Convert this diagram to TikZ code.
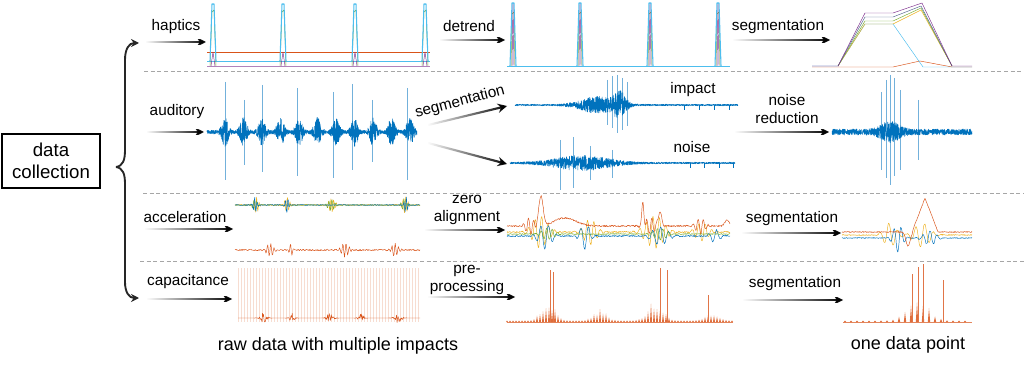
\documentclass[tikz,border=0pt]{standalone}
\usepackage{fontspec}
\setmainfont{Liberation Sans}
\usetikzlibrary{arrows.meta,positioning,fadings}
\definecolor{mblue}{RGB}{0,114,189}
\definecolor{morange}{RGB}{217,83,25}
\definecolor{myellow}{RGB}{237,177,32}
\definecolor{mpurple}{RGB}{126,47,142}
\definecolor{mgreen}{RGB}{119,172,48}
\definecolor{mcyan}{RGB}{77,190,238}
\definecolor{mslate}{RGB}{80,100,140}
\tikzset{
    pil/.style={
           -{Stealth[length=7pt,width=7pt]},
           line width=1.6pt,
           path fading=west},
    brc/.style={
           -{Stealth[length=6pt,width=6pt]},
           line width=1.4pt,
           black!85},
    lab/.style={
           font=\fontsize{11.5}{13}\selectfont,
           align=center,
           inner sep=1pt},
    boks/.style={
           draw=black, line width=1.5pt,
           minimum width=73pt,
           minimum height=40pt,
           align=center,
           font=\fontsize{14}{16.5}\selectfont},
    sep/.style={
           gray!70, densely dashed, line width=0.5pt},
    sig/.style={
           line width=0.35pt, line join=round},
    aud/.style={
           mblue, line width=0.4pt, line join=round},
    tall/.style={
           mblue!55, line width=0.4pt},
    spk/.style={
           morange!80, line width=0.4pt},
    declare function={bl(\xa,\xb,\xc)=exp(-(min(abs((\xa-\xb)/\xc),8))^2);
                      wv(\xa,\xb,\xc)=sin(\xb*mod(\xa,72)+\xc);}
}

\begin{document}
\begin{tikzpicture}[x=0.75pt, y=-0.75pt]
        \useasboundingbox (0,0) rectangle (1024,367);
        \pgfmathsetseed{5}

        \node[boks] (dc) at (51,161) {data\\collection};
        \coordinate (bt) at (116,167);
        \coordinate (btop) at (139,43);
        \coordinate (bbot) at (139,298);
        \draw[brc] (bt) .. controls (123,166) and (125,160) .. (125,150) -- (125,60) .. controls (125,49) and (129,43) .. (btop);
        \draw[brc] (bt) .. controls (123,168) and (125,174) .. (125,184) -- (125,282) .. controls (125,292) and (129,298) .. (bbot);

        \draw[sep] (144,71) -- (1024,71);
        \draw[sep] (143,193) -- (1024,193);
        \draw[sep] (140,261) -- (1024,261);

        % haptics
        \node[lab] (hap) at (176,27) {haptics};
        \coordinate (h0) at (146,42);
        \coordinate (h1) at (206,42);
        \draw[pil] (h0) -- (h1);
        \draw[sig, morange] (207,52) -- (430,52);
        \draw[sig, mcyan] (207,61) -- (430,61);
        \draw[sig, mpurple!60] (207,66) -- (430,66);
        \foreach \s in {213,283,355,425}{
            \draw[sig, mgreen] (\s-3,66) -- (\s-1,12) -- (\s+1,10) -- (\s+3,66);
            \draw[sig, mcyan, line width=0.8pt] (\s-3,61) -- (\s-1,4) -- (\s+1,4) -- (\s+3,61);
            \draw[sig, mpurple] (\s-2,66) -- (\s,52) -- (\s+2,66);
        }
        \node[lab] (det) at (469,26) {detrend};
        \coordinate (d0) at (440,40);
        \coordinate (d1) at (505,40);
        \draw[pil] (d0) -- (d1);
        \draw[sig, mcyan] (507,66) -- (730,66);
        \foreach \s in {513,580,650,718}{
            \draw[sig, mgreen] (\s-2,66) -- (\s-1,14) -- (\s+1,12) -- (\s+2,66);
            \draw[sig, mpurple] (\s-1,66) -- (\s,3) -- (\s+1,66);
            \draw[sig, mcyan, line width=0.8pt] (\s-3,66) -- (\s-1,3) -- (\s+1,3) -- (\s+3,66);
        }
        \node[lab] (seg1) at (778,27) {segmentation};
        \coordinate (s0) at (733,40);
        \coordinate (s1) at (830,40);
        \draw[pil] (s0) -- (s1);
        \draw[sig, morange] (812,67) -- (893,67) -- (920,61) -- (952,67) -- (972,67);
        \draw[sig, mcyan] (812,66) -- (838,66) -- (865,24) -- (893,24) -- (923,67) -- (972,67);
        \draw[sig, myellow] (838,66) -- (865,24) -- (893,24) -- (921,10) -- (952,66);
        \draw[sig, mgreen] (838,66) -- (865,21) -- (893,21) -- (921,8) -- (952,66);
        \draw[sig, mslate] (838,66) -- (865,17) -- (893,17) -- (921,6) -- (952,66);
        \draw[sig, mpurple] (812,66) -- (838,66) -- (865,13) -- (893,13) -- (922,3) -- (952,66) -- (972,66);

        % auditory
        \node[lab] (aud) at (177,112) {auditory};
        \coordinate (a0) at (147,132);
        \coordinate (a1) at (204,132);
        \draw[pil] (a0) -- (a1);
        \foreach \s/\t/\b in {225/82/180, 244/100/165, 262/85/172, 297/88/176, 333/92/178, 352/84/170, 372/100/162, 407/88/180}
            \draw[tall] (\s,\t) -- (\s,\b);
        \draw[aud] plot[domain=207:417, samples=1500] (\x, {132 + (1.8 + 13*bl(mod(\x-197.5,18.5),9,4)*(\x>214))*rand});
        \node[lab, rotate=15] (seg2) at (460,102) {segmentation};
        \coordinate (g0) at (428,125);
        \coordinate (g1) at (507,106);
        \coordinate (g2) at (428,143);
        \coordinate (g3) at (507,164);
        \draw[pil] (g0) -- (g1);
        \draw[pil] (g2) -- (g3);
        \foreach \s/\t/\b in {607/80/125, 612/76/128, 617/75/133, 622/78/130, 627/82/126}
            \draw[tall] (\s,\t) -- (\s,\b);
        \draw[aud] plot[domain=515:738, samples=1400] (\x, {105 + (0.8 + 8*bl(\x,598,22) + 11*bl(\x,620,7))*rand});
        \foreach \s in {684,699,714,729}
            \draw[sig, mblue] (\s,105) -- (\s,110);
        \node[lab] (imp) at (693,90) {impact};
        \foreach \s/\t/\b in {560/140/190, 573/137/188, 590/146/180, 612/150/178}
            \draw[tall] (\s,\t) -- (\s,\b);
        \draw[aud] plot[domain=510:735, samples=1400] (\x, {163 + (0.8 + 7*bl(\x,582,35))*rand});
        \foreach \s in {690,704,719,733}
            \draw[sig, mblue] (\s,163) -- (\s,168);
        \node[lab] (noi) at (692,147) {noise};
        \node[lab] (nr) at (787,109) {noise\\reduction};
        \coordinate (n0) at (735,132);
        \coordinate (n1) at (829,132);
        \draw[pil] (n0) -- (n1);
        \foreach \s/\t/\b in {881/92/170, 886/80/178, 890/75/185, 894/78/176, 900/90/170, 918/100/160}
            \draw[tall] (\s,\t) -- (\s,\b);
        \draw[aud] plot[domain=832:972, samples=1000] (\x, {132 + (3 + 8*bl(\x,890,12))*rand});

        % acceleration
        \node[lab] (acc) at (185,217) {acceleration};
        \coordinate (c0) at (145,229);
        \coordinate (c1) at (233,229);
        \draw[pil] (c0) -- (c1);
        \draw[sig, myellow] plot[domain=235:420, samples=300] (\x, {205 + 0.6*rand + 9*(bl(\x,256,3)+bl(\x,287,3)+0.8*bl(\x,332,4)+bl(\x,405,3))*wv(\x,140,0)});
        \draw[sig, mgreen] plot[domain=235:420, samples=300] (\x, {205 + 0.5*rand + 6*(bl(\x,255,3)+bl(\x,331,4)+bl(\x,404,3))*wv(\x,120,40)});
        \draw[sig, mblue] plot[domain=235:420, samples=300] (\x, {205 + 0.5*rand - 9*(bl(\x,255,2)+bl(\x,287,2)+bl(\x,406,2))*wv(\x,140,90)});
        \draw[sig, morange] plot[domain=235:420, samples=300] (\x, {250 + 0.8*rand + 7*(bl(\x,270,4)+bl(\x,291,2)+bl(\x,345,5)+bl(\x,395,4))*wv(\x,110,0)});
        \node[lab] (zero) at (467,210) {zero\\alignment};
        \coordinate (z0) at (425,230);
        \coordinate (z1) at (505,230);
        \draw[pil] (z0) -- (z1);
        \draw[sig, myellow] plot[domain=507:730, samples=450] (\x, {232 + 0.7*rand + 16*(bl(\x,540,10)+0.8*bl(\x,590,8)+bl(\x,655,12)+0.6*bl(\x,702,8))*wv(\x,55,0)});
        \draw[sig, mblue] plot[domain=507:730, samples=450] (\x, {236 + 0.7*rand + 13*(bl(\x,545,8)+bl(\x,585,6)+0.7*bl(\x,660,10)+0.5*bl(\x,715,6))*wv(\x,45,60)});
        \draw[sig, mgreen] plot[domain=507:730, samples=450] (\x, {234 + 0.5*rand + 6*(bl(\x,548,8)+bl(\x,660,8))*wv(\x,65,20)});
        \draw[sig, morange] plot[domain=507:730, samples=450] (\x, {226 + 0.8*rand - 30*bl(\x,541,3) - 24*bl(\x,643,1.5) - 16*bl(\x,660,2) - 8*bl(\x,565,15) + 8*(bl(\x,530,6)+bl(\x,650,8)+bl(\x,700,6))*wv(\x,70,0) - 6*bl(\x,727,3)});
        \node[lab] (seg3) at (792,219) {segmentation};
        \coordinate (t0) at (742,233);
        \coordinate (t1) at (841,233);
        \draw[pil] (t0) -- (t1);
        \draw[sig, myellow] plot[domain=842:972, samples=300] (\x, {235 + 0.5*rand + 12*(bl(\x,890,8)+bl(\x,922,10))*wv(\x,40,0)});
        \draw[sig, mblue] plot[domain=842:972, samples=300] (\x, {238 + 0.5*rand - 14*(bl(\x,898,6)+0.5*bl(\x,930,8))*wv(\x,50,30)});
        \draw[sig, morange] plot[domain=842:972, samples=300] (\x, {232 + 0.5*rand + 14*bl(\x,908,3) - 34*max(0,1-abs(\x-925)/13)});

        % capacitance
        \node[lab] (cap) at (188,282) {capacitance};
        \coordinate (p0) at (147,299);
        \coordinate (p1) at (232,299);
        \draw[pil] (p0) -- (p1);
        \foreach \s in {238,241,...,420}
            \draw[morange!20, line width=0.25pt] (\s,268) -- (\s,322);
        \draw[sig, morange] plot[domain=238:420, samples=350] (\x, {318 + 5*(bl(\x,263,4)+bl(\x,292,3)+bl(\x,330,4)+bl(\x,361,3)+bl(\x,398,4))*rand});
        \node[lab] (pre) at (467,280) {pre-\\processing};
        \coordinate (q0) at (428,297);
        \coordinate (q1) at (515,297);
        \draw[pil] (q0) -- (q1);
        \draw[sig, morange!70] (507,322) -- (733,322);
        \foreach \s in {507,510,...,733}{
            \pgfmathsetmacro\h{1.5 + (22*bl(\s,548,9) + 12*bl(\s,600,9) + 22*bl(\s,655,10) + 9*bl(\s,712,9))*(0.75+0.25*rand)}
            \fill[morange!85] (\s-1,322) -- (\s,322-\h) -- (\s+1,322) -- cycle;
        }
        \foreach \s/\h in {550/52, 553/50, 660/54, 667/52, 708/27}
            \draw[spk] (\s,322) -- (\s,322-\h);
        \node[lab] (seg4) at (795,284) {segmentation};
        \coordinate (r0) at (743,300);
        \coordinate (r1) at (843,300);
        \draw[pil] (r0) -- (r1);
        \draw[sig, morange!70] (843,322) -- (972,322);
        \foreach \s in {845,851,...,970}{
            \pgfmathsetmacro\h{1.5 + 28*bl(\s,918,14)*(0.8+0.2*rand)}
            \fill[morange!85] (\s-1.2,322) -- (\s,322-\h) -- (\s+1.2,322) -- cycle;
        }
        \foreach \s/\h in {912/48, 918/55, 923/58, 943/42}
            \draw[spk] (\s,322) -- (\s,322-\h);

        \node[font=\fontsize{13.5}{15}\selectfont] (raw) at (338,346) {raw data with multiple impacts};
        \node[font=\fontsize{13.5}{15}\selectfont] (one) at (908,345) {one data point};
    \end{tikzpicture}
\end{document}
